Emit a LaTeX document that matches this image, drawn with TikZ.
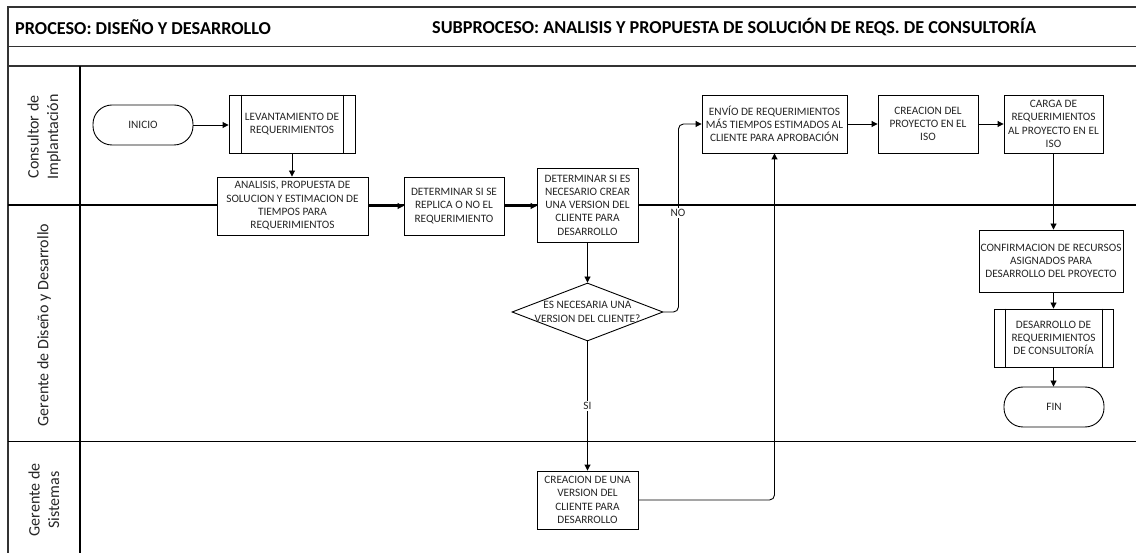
\documentclass[tikz,border=0pt]{standalone}
\usepackage{fontspec}
\setmainfont{Carlito}
\usetikzlibrary{shapes.geometric,arrows.meta}
\newcommand\myNodeFont{\fontsize{11.3}{13.3}\selectfont}
\newcommand\myLaneFont{\fontsize{16}{19.5}\selectfont}
\newcommand\myHeadFont{\fontsize{18.2}{20}\selectfont\bfseries}
\begin{document}
\begin{tikzpicture}[x=1pt,y=-1pt,
  box/.style={draw=black, fill=white, line width=0.9pt, inner sep=0pt, align=center, font=\myNodeFont, text=black!85},
  term/.style={box, rounded corners=19pt, minimum width=100, minimum height=40},
  dia/.style={shape=diamond, draw=black, fill=white, line width=0.9pt, inner sep=0pt, minimum width=151, minimum height=58},
  plain/.style={inner sep=0pt, align=center, font=\myNodeFont, text=black!85},
  lbl/.style={plain, fill=white, inner sep=1pt},
  arr/.style={draw=black, line width=0.9pt, -{Triangle[length=6pt,width=6pt]}},
  frame/.style={draw=black!80, line width=1.2pt},
  lane/.style={draw=black, line width=1.1pt},
  lanelbl/.style={rotate=90, align=center, font=\myLaneFont, text=black!85, inner sep=0pt},
  head/.style={anchor=west, font=\myHeadFont, text=black, inner sep=0pt}
]
\useasboundingbox (0,0) rectangle (1136,553);
\fill[white] (0,0) rectangle (1136,553);

% frame and lanes
\draw[frame] (8,553) -- (8,7) -- (1136,7);
\draw[frame] (8,46.5) -- (1136,46.5);
\draw[frame] (8,66) -- (1136,66);
\draw[lane] (80,66) -- (80,553);
\draw[lane] (8,205) -- (1136,205);
\draw[lane] (8,441.5) -- (1136,441.5);

% headers
\node[head] (h1) at (15,27.5) {PROCESO: DISEÑO Y DESARROLLO};
\node[head] (h2) at (432,27.5) {SUBPROCESO: ANALISIS Y PROPUESTA DE SOLUCIÓN DE REQS. DE CONSULTORÍA};

% lane labels
\node[lanelbl] (l1) at (44,137) {Consultor de\\Implantación};
\node[lanelbl] (l2) at (44,325) {Gerente de Diseño y Desarrollo};
\node[lanelbl] (l3) at (44,500) {Gerente de\\Sistemas};

% nodes
\node[term] (inicio) at (143,125) {INICIO};
\node[box, minimum width=126, minimum height=58] (lev) at (292,124) {LEVANTAMIENTO DE\\REQUERIMIENTOS};
\draw[line width=0.9pt] ([xshift=13]lev.north west) -- ([xshift=13]lev.south west);
\draw[line width=0.9pt] ([xshift=-12]lev.north east) -- ([xshift=-12]lev.south east);
\node[box, minimum width=151, minimum height=58] (anal) at (292.5,206) {ANALISIS, PROPUESTA DE\\SOLUCION Y ESTIMACION DE\\TIEMPOS PARA\\REQUERIMIENTOS};
\node[box, minimum width=100, minimum height=58] (det1) at (454,206) {DETERMINAR SI SE\\REPLICA O NO EL\\REQUERIMIENTO};
\node[box, minimum width=101, minimum height=74] (det2) at (587.5,205) {DETERMINAR SI ES\\NECESARIO CREAR\\UNA VERSION DEL\\CLIENTE PARA\\DESARROLLO};
\node[dia] (dia) at (587.5,312) {};
\node[plain] (diat) at (587.5,312) {ES NECESARIA UNA\\VERSION DEL CLIENTE?};
\node[box, minimum width=101, minimum height=58] (crea) at (587.5,500) {CREACION DE UNA\\VERSION DEL\\CLIENTE PARA\\DESARROLLO};
\node[box, minimum width=145, minimum height=58] (envio) at (774.5,124) {ENVÍO DE REQUERIMIENTOS\\MÁS TIEMPOS ESTIMADOS AL\\CLIENTE PARA APROBACIÓN};
\node[box, minimum width=100, minimum height=58] (creap) at (928,124) {CREACION DEL\\PROYECTO EN EL\\ISO};
\node[box, minimum width=99, minimum height=58] (carga) at (1053.5,124) {CARGA DE\\REQUERIMIENTOS\\AL PROYECTO EN EL\\ISO};
\node[box, minimum width=144, minimum height=62] (conf) at (1051,261) {CONFIRMACION DE RECURSOS\\ASIGNADOS PARA\\DESARROLLO DEL PROYECTO};
\node[box, minimum width=119, minimum height=58] (des) at (1053.5,338) {DESARROLLO DE\\REQUERIMIENTOS\\DE CONSULTORÍA};
\draw[line width=0.9pt] ([xshift=12]des.north west) -- ([xshift=12]des.south west);
\draw[line width=0.9pt] ([xshift=-11]des.north east) -- ([xshift=-11]des.south east);
\node[term] (fin) at (1054,407) {FIN};

% connectors
\draw[arr] (inicio.east) -- (inicio.east -| lev.west);
\draw[arr] (lev.south) -- (lev.south |- anal.north);
\draw[arr] (anal.east) -- (anal.east -| det1.west);
\draw[arr] (det1.east) -- (det1.east -| det2.west);
\draw[arr] (det2.south) -- (dia.north);
\draw[arr, rounded corners=5pt] (dia.east) -- ++(15,0) |- (envio.west);
\node[lbl] (nolbl) at (678,213) {NO};
\draw[arr] (dia.south) -- node[lbl] (silbl) {SI} (crea.north);
\draw[arr, rounded corners=5pt] (crea.east) -| (envio.south);
\draw[arr] (envio.east) -- (envio.east -| creap.west);
\draw[arr] (creap.east) -- (creap.east -| carga.west);
\draw[arr] (carga.south) -- (carga.south |- conf.north);
\draw[arr] (des.north |- conf.south) -- (des.north);
\draw[arr] (des.south) -- (des.south |- fin.north);
\end{tikzpicture}
\end{document}
